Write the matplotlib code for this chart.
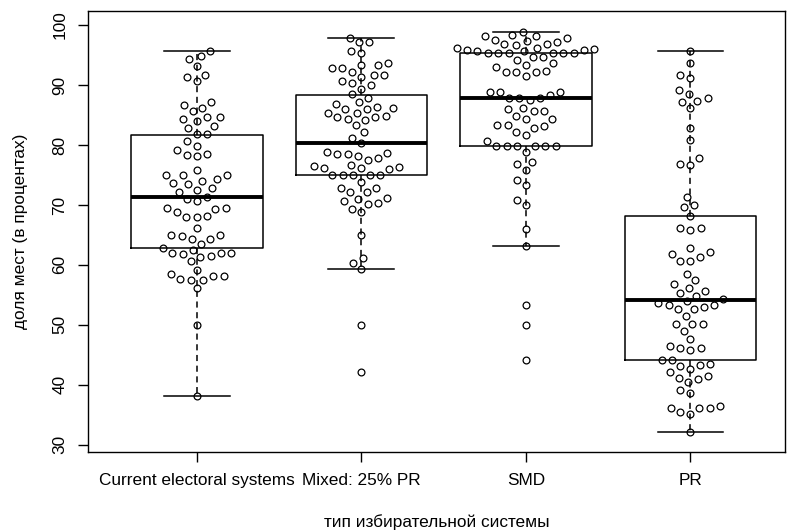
import numpy as np
import matplotlib
matplotlib.use('Agg')
import matplotlib.pyplot as plt

plt.rcParams['font.family'] = ['Liberation Sans', 'DejaVu Sans']

# данные
categories = ['Current electoral systems', 'Mixed: 25% PR', 'SMD', 'PR']

current = [95.6, 94.8, 94.3, 93.2, 91.7, 91.3, 90.7, 86.7, 87.1, 86.2, 85.6, 84.3, 84.6,
           84.0, 84.6, 83.2, 82.8, 81.8, 81.8, 80.6, 79.9, 78.5, 78.1, 78.4, 79.2, 75.8,
           75.0, 74.4, 75.0, 75.0, 74.05, 73.5, 72.9, 73.7, 72.5, 71.4, 72.2, 70.7, 71.0,
           69.5, 68.8, 68.0, 69.3, 69.5, 68.0, 68.2, 66.1, 65.0, 64.8, 64.3, 64.4, 65.0,
           63.5, 62.5, 61.8, 62.9, 61.5, 62.0, 61.3, 62.0, 62.0, 60.6, 59.2, 58.1, 57.6,
           57.5, 57.5, 58.1, 58.5, 56.1, 50.0, 38.2]

mixed = [97.9, 97.1, 97.1, 95.4, 95.6, 93.3, 93.3, 92.8, 93.7, 92.8, 92.1, 91.7, 91.3,
         91.7, 90.6, 90.0, 89.4, 90.3, 88.5, 87.9, 86.8, 86.4, 86.0, 86.0, 86.1, 87.1,
         85.3, 84.6, 84.2, 84.8, 84.3, 84.6, 85.4, 83.3, 82.1, 81.1, 80.4, 78.9, 78.5,
         78.5, 77.8, 78.1, 78.7, 77.5, 76.1, 76.7, 76.4, 76.1, 76.5, 76.0, 75.0, 75.0,
         75.0, 75.0, 75.0, 73.9, 72.1, 72.1, 72.8, 72.8, 70.6, 70.3, 71.0, 71.2, 70.2,
         69.4, 68.8, 65.0, 61.1, 60.4, 59.3, 50.0, 42.1]

smd = [98.9, 98.3, 98.1, 97.8, 98.2, 97.1, 97.5, 96.9, 96.7, 96.9, 97.3, 96.2, 96.1,
       95.8, 95.8, 95.7, 95.4, 95.4, 95.3, 95.6, 95.4, 95.4, 95.4, 96.0, 94.2, 93.6,
       94.6, 94.6, 93.3, 93.0, 92.3, 92.1, 91.5, 92.1, 92.2, 88.9, 88.3, 87.9, 88.9,
       87.5, 87.9, 87.9, 88.9, 86.1, 85.7, 84.8, 84.4, 84.4, 85.6, 86.0, 83.3, 83.2,
       82.8, 81.7, 82.2, 83.3, 79.9, 79.9, 79.9, 79.9, 79.9, 79.9, 80.7, 78.9, 77.2,
       76.8, 75.8, 74.2, 73.4, 70.0, 70.8, 66.0, 63.1, 53.4, 50.0, 44.2]

pr = [95.6, 93.6, 91.1, 91.6, 89.1, 88.5, 87.4, 87.2, 87.9, 86.1, 82.8, 80.8, 77.8,
      76.8, 76.7, 71.3, 69.6, 70.0, 68.2, 66.2, 65.8, 66.1, 62.9, 62.1, 61.8, 61.3,
      60.7, 60.7, 58.5, 57.5, 56.8, 56.1, 55.7, 54.8, 55.3, 53.4, 53.4, 54.0, 52.7,
      52.7, 52.9, 53.6, 54.3, 51.5, 50.1, 50.1, 50.1, 49.0, 47.6, 46.1, 45.8, 46.1,
      46.5, 44.2, 44.2, 43.3, 43.1, 42.6, 43.5, 42.1, 41.4, 41.2, 41.0, 40.4, 38.7,
      39.1, 36.4, 36.2, 36.2, 35.2, 35.4, 36.2, 32.1]

groups = [current, mixed, smd, pr]

# статистики ящиков (как на рисунке)
whis_lo = [38.2, 59.3, 63.1, 32.1]
q1 = [62.9, 75.0, 79.9, 44.2]
med = [71.4, 80.4, 87.9, 54.2]
q3 = [81.7, 88.4, 95.4, 68.2]
whis_hi = [95.6, 97.9, 98.9, 95.6]


def swarm(vals_px, d):
    # простой beeswarm: смещения по x (в пикселях)
    order = np.argsort(vals_px, kind='stable')
    px_list, py_list = [], []
    out = np.zeros(len(vals_px))
    for i in order:
        y = vals_px[i]
        cands = [0.0]
        for px, py in zip(px_list, py_list):
            dy = abs(y - py)
            if dy < d:
                dx = np.sqrt(d * d - dy * dy)
                cands += [px - dx, px + dx]
        cands.sort(key=lambda c: (abs(c), c))
        for c in cands:
            if all((c - px) ** 2 + (y - py) ** 2 >= d * d - 1e-6
                   for px, py in zip(px_list, py_list)):
                break
        out[i] = c
        px_list.append(c)
        py_list.append(y)
    return out


fig = plt.figure(figsize=(7.93, 5.32), dpi=100)
ax = fig.add_axes([88.3 / 793, 1 - 451.7 / 532, (785 - 88.3) / 793, (451.7 - 11) / 532])

stats = [dict(med=med[i], q1=q1[i], q3=q3[i], whislo=whis_lo[i], whishi=whis_hi[i], fliers=[])
         for i in range(4)]
ax.bxp(stats, positions=[1, 2, 3, 4], widths=0.8, showfliers=False, capwidths=0.4,
       boxprops=dict(color='black', linewidth=1.1),
       medianprops=dict(color='black', linewidth=2.8, solid_capstyle='butt'),
       whiskerprops=dict(color='black', linewidth=1.1, linestyle=(0, (4, 3))),
       capprops=dict(color='black', linewidth=1.1))

ax.set_xlim(0.34, 4.575)
ax.set_ylim(28.85, 102.35)

ppu_x = ax.bbox.width / (4.575 - 0.34)
ppu_y = ax.bbox.height / (102.35 - 28.85)
for k, g in enumerate(groups):
    g = np.array(g)
    offs = swarm(g * ppu_y, 10.5) / ppu_x
    ax.plot(k + 1 + offs, g, 'o', ms=4.9, mfc='none', mec='black', mew=0.9, zorder=5)

ax.set_xticks([1, 2, 3, 4])
ax.set_xticklabels(categories)
ax.set_yticks([30, 40, 50, 60, 70, 80, 90, 100])
ax.tick_params(axis='both', direction='out', length=7.2, width=1.0, labelsize=12.4, colors='black')
ax.tick_params(axis='x', pad=8)
ax.tick_params(axis='y', pad=8)
for t in ax.get_yticklabels():
    t.set_rotation(90)
    t.set_va('center')
for s in ax.spines.values():
    s.set_linewidth(1.0)

fig.text(21 / 793, 1 - 231 / 532, 'доля мест (в процентах)', rotation=90,
         ha='center', va='center', fontsize=12.4)
fig.text(436.7 / 793, 1 - 522 / 532, 'тип избирательной системы',
         ha='center', va='center', fontsize=12.4)

fig.savefig('out.png', dpi=100)
